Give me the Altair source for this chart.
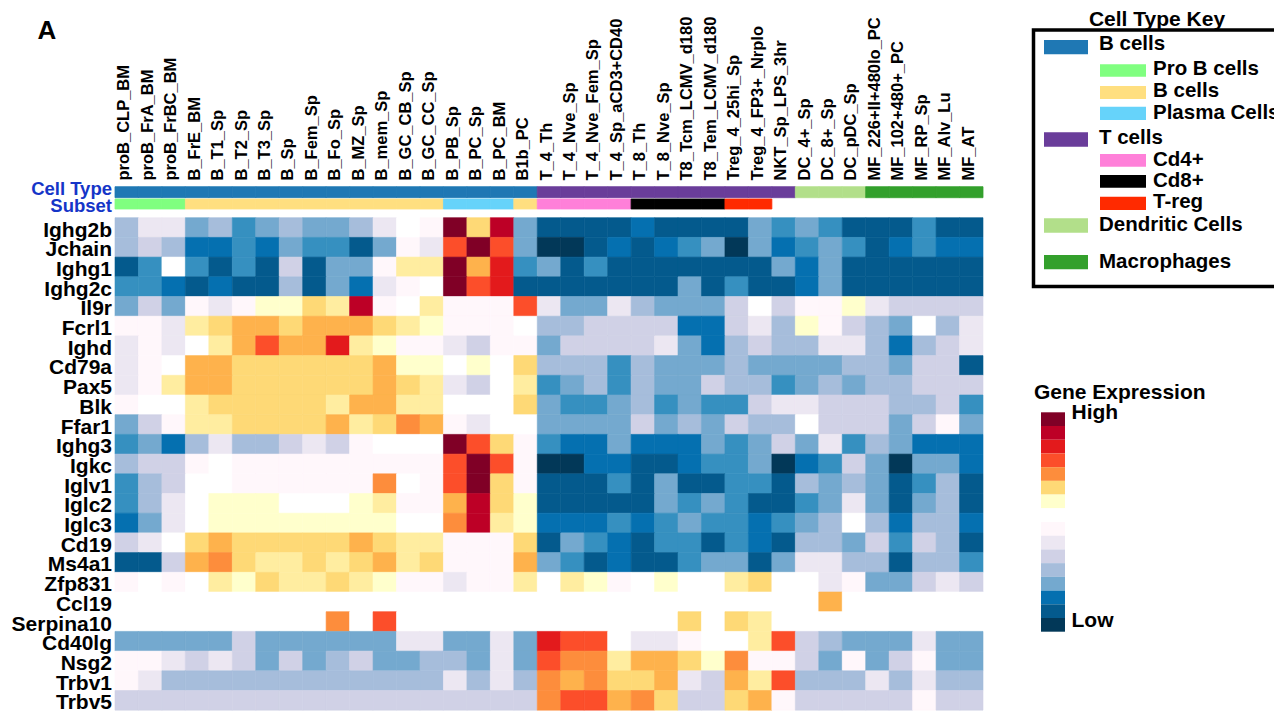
import altair as alt
import pandas as pd

# ---------------- data ----------------
COLUMNS = ["proB_CLP_BM", "proB_FrA_BM", "proB_FrBC_BM", "B_FrE_BM", "B_T1_Sp", "B_T2_Sp",
           "B_T3_Sp", "B_Sp", "B_Fem_Sp", "B_Fo_Sp", "B_MZ_Sp", "B_mem_Sp", "B_GC_CB_Sp",
           "B_GC_CC_Sp", "B_PB_Sp", "B_PC_Sp", "B_PC_BM", "B1b_PC", "T_4_Th", "T_4_Nve_Sp",
           "T_4_Nve_Fem_Sp", "T_4_Sp_aCD3+CD40", "T_8_Th", "T_8_Nve_Sp", "T8_Tcm_LCMV_d180",
           "T8_Tem_LCMV_d180", "Treg_4_25hi_Sp", "Treg_4_FP3+_Nrplo", "NKT_Sp_LPS_3hr",
           "DC_4+_Sp", "DC_8+_Sp", "DC_pDC_Sp", "MF_226+II+480lo_PC", "MF_102+480+_PC",
           "MF_RP_Sp", "MF_Alv_Lu", "MF_AT"]

CELL_TYPE = ["B cells", "B cells", "B cells", "B cells", "B cells", "B cells", "B cells",
             "B cells", "B cells", "B cells", "B cells", "B cells", "B cells", "B cells",
             "B cells", "B cells", "B cells", "B cells",
             "T cells", "T cells", "T cells", "T cells", "T cells", "T cells", "T cells",
             "T cells", "T cells", "T cells", "T cells",
             "Dendritic Cells", "Dendritic Cells", "Dendritic Cells",
             "Macrophages", "Macrophages", "Macrophages", "Macrophages", "Macrophages"]

SUBSET = ["Pro B cells", "Pro B cells", "Pro B cells",
          "B cells", "B cells", "B cells", "B cells", "B cells", "B cells", "B cells",
          "B cells", "B cells", "B cells", "B cells",
          "Plasma Cells", "Plasma Cells", "Plasma Cells", "B cells",
          "Cd4+", "Cd4+", "Cd4+", "Cd4+", "Cd8+", "Cd8+", "Cd8+", "Cd8+", "T-reg", "T-reg",
          "", "", "", "", "", "", "", "", ""]

GENES = ["Ighg2b", "Jchain", "Ighg1", "Ighg2c", "Il9r", "Fcrl1", "Ighd", "Cd79a", "Pax5",
         "Blk", "Ffar1", "Ighg3", "Igkc", "Iglv1", "Iglc2", "Iglc3", "Cd19", "Ms4a1",
         "Zfp831", "Ccl19", "Serpina10", "Cd40lg", "Nsg2", "Trbv1", "Trbv5"]

# expression level (colour step, -9 = lowest ... 9 = highest), one value per column
IGHG2B = [-4, -2, -2, -5, -4, -6, -5, -4, -5, -5, -4, -2, 0, -1, 9, 3, 8, -5, -8, -8, -8, -8, -7, -8, -8, -8, -8, -5, -6, -5, -6, -8, -8, -8, -6, -8, -8]
JCHAIN = [-4, -3, -4, -7, -7, -6, -7, -5, -6, -6, -8, -5, -1, -2, 6, 9, 6, -5, -9, -9, -8, -7, -8, -7, -6, -5, -9, -5, -7, -6, -5, -6, -8, -7, -6, -7, -7]
IGHG1 = [-8, -6, 0, -6, -8, -6, -8, -3, -8, -5, -5, -1, 2, 2, 9, 4, 7, -6, -5, -8, -6, -8, -8, -8, -8, -8, -8, -8, -5, -7, -5, -8, -8, -8, -8, -8, -8]
IGHG2C = [-6, -6, -7, -8, -7, -8, -8, -4, -8, -5, -7, -2, -1, 0, 9, 6, 7, -8, -8, -8, -8, -8, -8, -8, -5, -8, -6, -8, -8, -7, -5, -8, -8, -8, -8, -8, -8]
IL9R = [-5, -3, -5, -1, -2, -1, 1, 1, 3, 2, 8, -1, 0, 2, -1, -1, -1, 6, -2, -5, -5, -2, -4, -5, -5, -5, -3, 0, -3, -1, -1, 1, -2, -3, -3, -3, -3]
FCRL1 = [-1, -1, -2, 2, 3, 4, 4, 3, 4, 4, 4, 3, 2, 1, -1, -1, -1, 0, -4, -4, -3, -3, -3, -3, -7, -7, -3, -2, -4, 1, -1, -3, -4, -5, 0, -4, -2]
IGHD = [-2, -1, -2, 0, 2, 4, 6, 4, 4, 7, 2, 1, -1, -1, -2, -3, -1, -1, -5, -3, -3, -3, -3, -2, -5, -7, -4, -3, -4, -4, -2, -2, -4, -7, -4, -3, -2]
CD79A = [-2, -1, 0, 4, 4, 3, 3, 3, 3, 3, 3, 4, 1, 1, 0, 1, 0, 3, -4, -4, -4, -6, -4, -5, -5, -5, -4, -5, -5, -5, -5, -4, -4, -5, -3, -3, -8]
PAX5 = [-2, -1, 2, 4, 4, 3, 3, 3, 3, 3, 3, 4, 3, 2, -2, -3, 0, 2, -6, -5, -4, -6, -4, -5, -5, -3, -4, -4, -6, -5, -4, -5, -4, -4, -3, -3, -3]
BLK = [-1, 0, 0, 2, 3, 3, 3, 3, 3, 2, 4, 4, 2, 2, 0, 0, 0, 3, -5, -6, -6, -5, -4, -6, -5, -6, -6, -3, -2, -2, -3, -3, -3, -4, -4, -3, -6]
FFAR1 = [-5, -3, -1, 2, 2, 3, 3, 3, 3, 4, 2, 3, 5, 4, -1, -2, 0, 0, -5, -5, -5, -5, -3, -5, -4, -5, -3, -4, -4, 0, -3, -3, -3, -5, -3, -1, -5]
IGHG3 = [-6, -5, -7, -4, -2, -4, -4, -3, -2, -3, -1, 0, 0, 0, 9, 6, 3, -1, -6, -7, -7, -5, -7, -7, -7, -5, -6, -5, -3, -5, -2, -6, -4, -5, -7, -7, -7]
IGKC = [-4, -3, -3, -1, 0, -1, -1, -1, -1, -1, -1, -1, -1, -1, 6, 9, 6, -1, -9, -9, -7, -7, -8, -8, -7, -6, -6, -5, -9, -7, -6, -3, -5, -9, -5, -5, -7]
IGLV1 = [-6, -4, -3, 0, 0, -1, -1, -1, -1, -1, -1, 5, 0, -1, 6, 9, 3, -1, -8, -8, -8, -6, -8, -5, -8, -8, -6, -6, -8, -4, -5, -4, -5, -8, -6, -4, -8]
IGLC2 = [-6, -4, -2, 0, 1, 1, 1, 0, 0, 0, 1, 2, -1, -1, 4, 8, 3, 1, -8, -8, -8, -8, -8, -5, -6, -5, -6, -8, -8, -6, -5, -2, -5, -8, -5, -4, -8]
IGLC3 = [-7, -5, -2, 0, 1, 1, 1, 1, 1, 1, 1, 1, 0, 0, 5, 8, 2, 1, -7, -7, -7, -6, -7, -6, -5, -6, -6, -7, -6, -5, -4, 0, -4, -7, -4, -4, -7]
CD19 = [-3, -2, 0, 3, 4, 3, 3, 3, 3, 3, 4, 3, 2, 2, -1, -1, -1, 3, -8, -5, -6, -7, -8, -6, -6, -8, -6, -7, -8, -4, -4, -5, -3, -6, -3, -4, -8]
MS4A1 = [-8, -8, -3, 4, 5, 3, 2, 2, 3, 2, 3, 4, 2, 3, -1, -1, -1, 4, -5, -6, -8, -7, -8, -8, -6, -5, -5, -8, -5, -2, -2, -4, -4, -8, -4, -4, -6]
ZFP831 = [-1, 0, -1, 0, 2, 1, 3, 2, 2, 3, 2, 1, -1, -1, -2, -1, -1, 2, 0, 2, 1, -1, 0, 1, 0, 0, 2, 3, 0, 0, -2, -1, -5, -5, -3, -2, -3]
CCL19 = [0, 0, 0, 0, 0, 0, 0, 0, 0, 0, 0, 0, 0, 0, 0, 0, 0, 0, 0, 0, 0, 0, 0, 0, 0, 0, 0, 0, 0, 0, 4, 0, 0, 0, 0, 0, 0]
SERPINA10 = [0, 0, 0, 0, 0, 0, 0, 0, 0, 5, 0, 6, 0, 0, 0, 0, 0, 0, 0, 0, 0, 0, 0, 0, 3, 0, 3, 2, 0, 0, 0, 0, 0, 0, 0, 0, 0]
CD40LG = [-5, -5, -5, -5, -5, -3, -5, -5, -5, -5, -5, -5, -2, -2, -5, -5, -2, -5, 7, 6, 6, 0, -2, -2, -1, 0, 0, 2, 6, -3, -4, -5, -5, -5, -2, -5, -5]
NSG2 = [-1, -1, -2, -3, -2, -3, -5, -3, -5, -4, -3, -5, -5, -4, -4, -5, -2, -5, 6, 5, 5, 2, 4, 4, 3, 1, 5, -1, -1, -3, -5, -1, -5, -3, -1, -5, -5]
TRBV1 = [-1, -2, -4, -4, -4, -4, -4, -4, -4, -4, -4, -4, -4, -4, -2, -4, -2, -4, 5, 4, 5, 3, 3, 4, -2, -3, 4, 2, 6, -4, -4, -4, -2, -4, -2, -4, -4]
TRBV5 = [-3, -3, -3, -3, -3, -3, -3, -3, -3, -3, -3, -3, -3, -3, -3, -3, -3, -3, 5, 6, 6, 4, 5, 3, -3, -3, 3, 4, -1, -3, -3, -3, -3, -3, -1, -3, -3]

ROWS = [IGHG2B, JCHAIN, IGHG1, IGHG2C, IL9R, FCRL1, IGHD, CD79A, PAX5, BLK, FFAR1, IGHG3,
        IGKC, IGLV1, IGLC2, IGLC3, CD19, MS4A1, ZFP831, CCL19, SERPINA10, CD40LG, NSG2,
        TRBV1, TRBV5]

LEVELS = [-9, -8, -7, -6, -5, -4, -3, -2, -1, 0, 1, 2, 3, 4, 5, 6, 7, 8, 9]
LEVEL_COLORS = ["#023858", "#045a8d", "#0570b0", "#3690c0", "#74a9cf", "#a6bddb", "#d0d1e6",
                "#ece7f2", "#fff7fb", "#ffffff", "#ffffcc", "#ffeda0", "#fed976", "#feb24c",
                "#fd8d3c", "#fc4e2a", "#e31a1c", "#bd0026", "#800026"]
LEGEND_LEVELS = [9, 8, 7, 6, 5, 3, 1, 0, -1, -2, -3, -4, -5, -7, -8, -9]

CT_NAMES = ["B cells", "T cells", "Dendritic Cells", "Macrophages"]
CT_COLORS = ["#1f78b4", "#6a3d9a", "#b2df8a", "#33a02c"]
SUB_NAMES = ["Pro B cells", "B cells", "Plasma Cells", "Cd4+", "Cd8+", "T-reg"]
SUB_COLORS = ["#80ff80", "#ffdf80", "#66d3fa", "#ff80d9", "#000000", "#ff2a00"]

KEY_NAMES = ["B cells", "Pro B cells", "B cells", "Plasma Cells", "T cells", "Cd4+", "Cd8+",
             "T-reg", "Dendritic Cells", "Macrophages"]
KEY_COLORS = ["#1f78b4", "#80ff80", "#ffdf80", "#66d3fa", "#6a3d9a", "#ff80d9", "#000000",
              "#ff2a00", "#b2df8a", "#33a02c"]

for r in ROWS:
    assert len(r) == len(COLUMNS)
assert len(ROWS) == len(GENES)

# ---------------- layout (pixels inside the chart) ----------------
W, H = 1266, 703
HX0, HX1 = 107.0, 975.0
HY0, HY1 = 209.7, 702.2
FONT = "Liberation Sans"
KEY_INDENT = [0, 1, 1, 1, 0, 1, 1, 1, 0, 0]
KEY_SW_Y = [(32, 46.3), (56.3, 68.7), (78, 91), (98.7, 112), (124.3, 138.7), (146, 158.7),
            (167, 179.7), (188.7, 202), (210.3, 224.7), (247, 261.3)]
KEY_BASE = [42, 67, 88.7, 111, 136, 157.7, 178.7, 200, 223, 260]

heat_df = pd.DataFrame([
    {"gene": g, "col": c, "level": v}
    for g, row in zip(GENES, ROWS) for c, v in zip(COLUMNS, row)
])
cols_df = pd.DataFrame({"col": COLUMNS, "ctype": CELL_TYPE, "subset": SUBSET})
genes_df = pd.DataFrame({"gene": GENES})
leg_df = pd.DataFrame({"lvl": LEGEND_LEVELS})

key_rows = []
for i, (n, c) in enumerate(zip(KEY_NAMES, KEY_COLORS)):
    x1 = 1036 if KEY_INDENT[i] == 0 else 1092
    x2 = 1080 if KEY_INDENT[i] == 0 else 1138
    tx = 1091 if KEY_INDENT[i] == 0 else 1145
    key_rows.append({"name": n, "color": c, "x1": x1, "x2": x2,
                     "y1": KEY_SW_Y[i][0], "y2": KEY_SW_Y[i][1], "tx": tx, "ty": KEY_BASE[i]})
key_df = pd.DataFrame(key_rows)


def xband():
    return alt.X("col:N", scale=alt.Scale(type="band", domain=COLUMNS, range=[HX0, HX1],
                                          paddingInner=0, paddingOuter=0), axis=None)


def yband():
    return alt.Y("gene:N", scale=alt.Scale(type="band", domain=GENES, range=[HY0, HY1],
                                           paddingInner=0, paddingOuter=0), axis=None)


heat_scale = alt.Scale(domain=LEVELS, range=LEVEL_COLORS)

heat = alt.Chart(heat_df).mark_rect(strokeWidth=0.6).encode(
    x=xband(), y=yband(),
    color=alt.Color("level:O", scale=heat_scale, legend=None),
    stroke=alt.Stroke("level:O", scale=heat_scale, legend=None),
)

col_labels = alt.Chart(cols_df).mark_text(
    angle=270, align="left", baseline="middle", dy=-2.5, font=FONT, fontWeight="bold",
    fontSize=16.5, color="black"
).encode(x=xband(), y=alt.value(172.5), text="col:N")

gene_labels = alt.Chart(genes_df).mark_text(
    align="right", baseline="middle", dy=3, font=FONT, fontWeight="bold", fontSize=21,
    color="black"
).encode(x=alt.value(104), y=yband(), text="gene:N")

ct_scale = alt.Scale(domain=CT_NAMES, range=CT_COLORS)
ct_bar = alt.Chart(cols_df).mark_rect(strokeWidth=0.8).encode(
    x=xband(), y=alt.value(178.7), y2=alt.value(189.7),
    color=alt.Color("ctype:N", scale=ct_scale, legend=None),
    stroke=alt.Stroke("ctype:N", scale=ct_scale, legend=None),
)

sub_scale = alt.Scale(domain=SUB_NAMES, range=SUB_COLORS)
sub_bar = alt.Chart(cols_df).transform_filter("datum.subset != ''").mark_rect(strokeWidth=0.8).encode(
    x=xband(), y=alt.value(191), y2=alt.value(201),
    color=alt.Color("subset:N", scale=sub_scale, legend=None),
    stroke=alt.Stroke("subset:N", scale=sub_scale, legend=None),
)

side_df = pd.DataFrame({"t": ["Cell Type", "Subset"], "yy": [187, 203.7]})
side_labels = alt.Chart(side_df).mark_text(
    align="right", baseline="alphabetic", font=FONT, fontWeight="bold", fontSize=18.5,
    color="#1535c8"
).encode(x=alt.value(104), y=alt.Y("yy:Q", scale=None, axis=None), text="t:N")

letter = alt.Chart(pd.DataFrame({"t": ["A"]})).mark_text(
    align="left", baseline="alphabetic", font=FONT, fontWeight="bold", fontSize=26,
    color="black"
).encode(x=alt.value(29.5), y=alt.value(31.3), text="t:N")

# ---- Cell Type Key ----
one = pd.DataFrame({"t": ["Cell Type Key"]})
key_title = alt.Chart(one).mark_text(
    align="center", baseline="alphabetic", font=FONT, fontWeight="bold", fontSize=21,
    color="black"
).encode(x=alt.value(1149), y=alt.value(17.5), text="t:N")

key_box = alt.Chart(one).mark_rect(fillOpacity=0, stroke="black", strokeWidth=3.5).encode(
    x=alt.value(1025.5), x2=alt.value(1300), y=alt.value(22), y2=alt.value(278.5)
)

key_sw = alt.Chart(key_df).mark_rect().encode(
    x=alt.X("x1:Q", scale=None, axis=None), x2="x2:Q",
    y=alt.Y("y1:Q", scale=None, axis=None), y2="y2:Q",
    color=alt.Color("color:N", scale=None),
)
key_txt = alt.Chart(key_df).mark_text(
    align="left", baseline="alphabetic", font=FONT, fontWeight="bold", fontSize=20.5,
    color="black"
).encode(
    x=alt.X("tx:Q", scale=None, axis=None), y=alt.Y("ty:Q", scale=None, axis=None),
    text="name:N",
)

# ---- Gene Expression legend ----
ge_title = alt.Chart(pd.DataFrame({"t": ["Gene Expression"]})).mark_text(
    align="left", baseline="alphabetic", font=FONT, fontWeight="bold", fontSize=21,
    color="black"
).encode(x=alt.value(1026), y=alt.value(391), text="t:N")

ge_boxes = alt.Chart(leg_df).mark_rect().encode(
    x=alt.value(1033), x2=alt.value(1057),
    y=alt.Y("lvl:O", scale=alt.Scale(type="band", domain=LEGEND_LEVELS, range=[404.3, 623.7],
                                     paddingInner=0, paddingOuter=0), axis=None),
    color=alt.Color("lvl:O", scale=heat_scale, legend=None),
)

hl_df = pd.DataFrame({"t": ["High", "Low"], "yy": [411.3, 618.7]})
ge_hl = alt.Chart(hl_df).mark_text(
    align="left", baseline="alphabetic", font=FONT, fontWeight="bold", fontSize=21,
    color="black"
).encode(x=alt.value(1063.5), y=alt.Y("yy:Q", scale=None, axis=None), text="t:N")

chart = alt.layer(
    heat, col_labels, gene_labels, ct_bar, sub_bar, side_labels, letter,
    key_title, key_box, key_sw, key_txt, ge_title, ge_boxes, ge_hl
).resolve_scale(
    x="independent", y="independent", color="independent", stroke="independent"
).properties(
    width=W, height=H, autosize=alt.AutoSizeParams(type="none"), padding=0
).configure_view(strokeWidth=0)

chart.save("out.html", embed_options={"renderer": "svg", "actions": False})
